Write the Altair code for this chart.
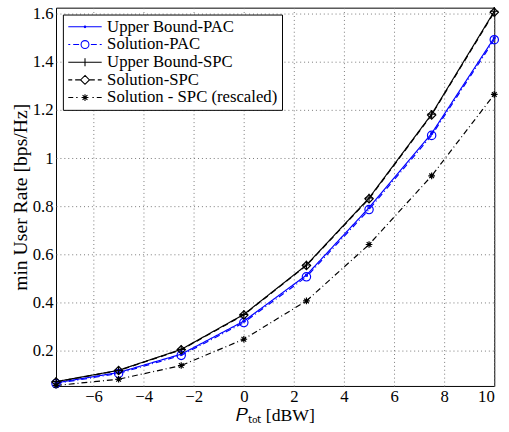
import altair as alt
import pandas as pd

x_vals = [-7.5, -5, -2.5, 0, 2.5, 5, 7.5, 10]
ub_pac = [0.068, 0.111, 0.187, 0.324, 0.515, 0.795, 1.103, 1.500]
sol_pac = [0.065, 0.107, 0.182, 0.318, 0.508, 0.787, 1.095, 1.492]
ub_spc = [0.073, 0.120, 0.207, 0.352, 0.557, 0.835, 1.183, 1.610]
sol_spc = [0.072, 0.119, 0.205, 0.350, 0.555, 0.832, 1.180, 1.606]
resc_spc = [0.057, 0.083, 0.140, 0.249, 0.408, 0.642, 0.927, 1.265]

series_names = ["Upper Bound-PAC", "Solution-PAC", "Upper Bound-SPC",
                "Solution-SPC", "Solution - SPC (rescaled)"]
style_codes = ["s1", "s2", "s3", "s4", "s5"]
series_values = [ub_pac, sol_pac, ub_spc, sol_spc, resc_spc]
colors = ["#0000ff", "#0000ff", "#000000", "#000000", "#000000"]
dashes = [[1, 0], [6, 3, 1, 3], [1, 0], [6, 4], [6, 3, 1, 3]]
marker_paths = [
    "M-0.25,0A0.25,0.25 0 1,0 0.25,0A0.25,0.25 0 1,0 -0.25,0",
    "circle",
    "M-1,0H1M0,-1V1",
    "M0,-1L1,0L0,1L-1,0Z",
    "M-0.8,0H0.8M0,-0.8V0.8M-0.56,-0.56L0.56,0.56M-0.56,0.56L0.56,-0.56",
]
x_ticks = [-6, -4, -2, 0, 2, 4, 6, 8, 10]
y_ticks = [0.2, 0.4, 0.6, 0.8, 1.0, 1.2, 1.4, 1.6]

# ---- legend symbol glyphs (line sample + marker), drawn in px units ----
SYM = 14          # legend symbolSize side in px
U = SYM / 2       # px per path unit


def _p(px):
    return round((px - U) / U, 3)


def _seg(a, b):
    return f"M{_p(a)},0H{_p(b)}"


def _circ(cx, r):
    c, rr = _p(cx), round(r / U, 3)
    return (f"M{round(c - rr, 3)},0A{rr},{rr} 0 1,0 {round(c + rr, 3)},0"
            f"A{rr},{rr} 0 1,0 {round(c - rr, 3)},0")


def _plus(cx, r):
    c, rr = _p(cx), round(r / U, 3)
    return f"M{round(c - rr, 3)},0H{round(c + rr, 3)}M{c},{-rr}V{rr}"


def _diam(cx, r):
    c, rr = _p(cx), round(r / U, 3)
    return (f"M{c},{-rr}L{round(c + rr, 3)},0L{c},{rr}L{round(c - rr, 3)},0Z")


def _star(cx, r):
    c, rr = _p(cx), round(r / U, 3)
    d = round(rr * 0.7, 3)
    return (_plus(cx, r) + f"M{round(c - d, 3)},{-d}L{round(c + d, 3)},{d}"
            f"M{round(c - d, 3)},{d}L{round(c + d, 3)},{-d}")


legend_paths = [
    _seg(0, 34) + _circ(17, 0.8),
    _seg(0, 2) + _seg(5, 11) + _circ(17, 4) + _seg(23, 29) + _seg(32, 34),
    _seg(0, 34) + _plus(17, 4),
    _seg(0, 4) + _seg(7, 12.5) + _diam(17, 4.5) + _seg(21.5, 27) + _seg(30, 34),
    _seg(0, 5) + _seg(8, 9.5) + _star(17, 3.5) + _seg(24.5, 26) + _seg(29, 34),
]

rows = []
for name, code, vals in zip(series_names, style_codes, series_values):
    for xv, yv in zip(x_vals, vals):
        rows.append({"x": xv, "y": yv, "series": name, "style": code})
df = pd.DataFrame(rows)

shape_expr = ""
for name, p in zip(series_names[:-1], legend_paths[:-1]):
    shape_expr += f"datum.value === '{name}' ? '{p}' : "
shape_expr += f"'{legend_paths[-1]}'"

FONT = "Liberation Serif"

color_scale = alt.Scale(domain=series_names, range=colors)

base = alt.Chart(df).encode(
    x=alt.X("x:Q", scale=alt.Scale(domain=[-7.5, 10], nice=False, zero=False),
            axis=alt.Axis(values=x_ticks, title="𝑃ₜₒₜ [dBW]", labelPadding=3,
                          titlePadding=2, titleFontSize=18)),
    y=alt.Y("y:Q", scale=alt.Scale(domain=[0.055, 1.625], nice=False, zero=False),
            axis=alt.Axis(values=y_ticks, title="min User Rate [bps/Hz]",
                          labelPadding=3, titlePadding=2, titleFontSize=20,
                          labelExpr="datum.value == 1 ? '1' : format(datum.value, '.1f')")),
)

lines = base.mark_line(strokeWidth=1.2).encode(
    color=alt.Color("series:N", scale=color_scale,
                    legend=alt.Legend(
                        title=None, orient="top-left", offset=7,
                        fillColor="white", strokeColor="black",
                        padding=4, rowPadding=0, labelOffset=24,
                        symbolSize=SYM * SYM, labelFont=FONT, labelFontSize=17,
                        labelColor="black", labelLimit=400,
                        symbolType=alt.ExprRef(expr=shape_expr),
                        symbolStrokeWidth=1.1, symbolOpacity=1,
                        symbolFillColor="transparent",
                    )),
    strokeDash=alt.StrokeDash("style:N",
                              scale=alt.Scale(domain=style_codes, range=dashes),
                              legend=None),
)

points = base.mark_point(filled=False, strokeWidth=1.2, size=72, opacity=1).encode(
    color=alt.Color("series:N", scale=color_scale),
    shape=alt.Shape("style:N",
                    scale=alt.Scale(domain=style_codes, range=marker_paths),
                    legend=None),
)

chart = alt.layer(lines, points).properties(
    width=446, height=385,
    padding={"left": 10, "top": 1, "right": 8, "bottom": 2},
).configure_view(
    stroke="black", strokeWidth=1
).configure_axis(
    labelFont=FONT, labelFontSize=17, labelColor="black",
    titleFont=FONT, titleFontWeight="normal", titleColor="black",
    grid=True, gridDash=[1, 3], gridColor="#777", gridOpacity=1, gridWidth=1,
    ticks=False, domain=False,
)

chart.save("out.html", embed_options={"renderer": "svg", "actions": False})
